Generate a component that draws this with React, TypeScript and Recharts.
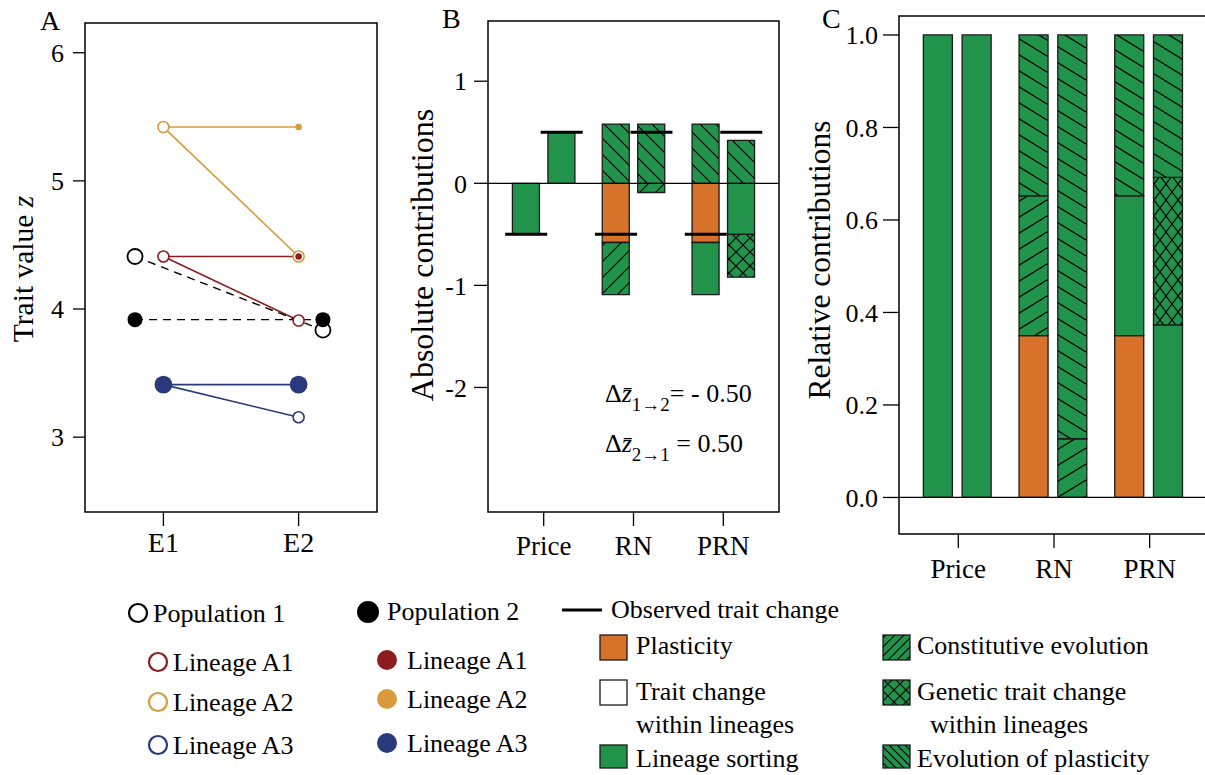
import React from 'react';
import {
  ComposedChart, Line, Scatter, Bar, XAxis, YAxis, ReferenceLine, ReferenceArea,
} from 'recharts';

const FONT = '"Liberation Serif", "Times New Roman", Times, serif';
const GREEN = '#21934a';
const ORANGE = '#d6722a';
const EDGE = '#1a1a1a';

// panel A: trait value of the lineages / populations in the two environments
const envTicks = [1, 2];
const envLabels = ['E1', 'E2'];
const lineageNames = ['A1', 'A2', 'A3'];
const lineageColors = ['#8c1c1f', '#d99a3e', '#283a7c'];
const lineageE1 = [4.41, 5.42, 3.41];
const lineageE2Pop2 = [4.41, 5.42, 3.41];
const lineageE2Pop1 = [3.91, 4.41, 3.155];
const pop2FreqE1 = [0, 0, 0.8];
const pop2FreqE2 = [0.1, 0.1, 0.8];
const popX = [0.79, 2.18];
const pop1Mean = [4.41, 3.835];
const pop2Mean = [3.917, 3.917];
const traitTicks = [3, 4, 5, 6];

// panels B and C: decompositions, two columns (1->2, 2->1) per method
const methods = ['Price', 'RN', 'PRN'];
const plasticityAbs = [0, 0, -0.58, 0, -0.58, 0];
const sortingAbs = [-0.5, 0.5, 0, 0, -0.51, -0.5];
const constitutiveAbs = [0, 0, -0.51, -0.09, 0, 0];
const geneticAbs = [0, 0, 0, 0, 0, -0.42];
const evoPlastAbs = [0, 0, 0.58, 0.58, 0.58, 0.42];
const observed = [-0.5, 0.5, -0.5, 0.5, -0.5, 0.5];
const absTicks = [-2, -1, 0, 1];

const plasticityRel = [0, 0, 0.35, 0, 0.35, 0];
const sortingRel = [1, 1, 0, 0, 0.302, 0.373];
const constitutiveRel = [0, 0, 0.302, 0.127, 0, 0];
const geneticRel = [0, 0, 0, 0, 0, 0.319];
const evoPlastRel = [0, 0, 0.348, 0.873, 0.348, 0.308];
const relTicks = [0, 0.2, 0.4, 0.6, 0.8, 1.0];

const tickFont = { fontFamily: FONT, fill: '#000' };
const tickLine = { stroke: '#000', strokeWidth: 1.3 };

function Hatch({ id, w, h, kind }: { id: string; w: number; h: number; kind: 'back' | 'fwd' | 'cross' }) {
  const lines: React.ReactNode[] = [];
  [-1, 0, 1].forEach((k) => {
    if (kind !== 'fwd') lines.push(<line key={'b' + k} x1={0} y1={k * h} x2={w} y2={(k + 1) * h} stroke="#000" strokeWidth={1.2} />);
    if (kind !== 'back') lines.push(<line key={'f' + k} x1={0} y1={(k + 1) * h} x2={w} y2={k * h} stroke="#000" strokeWidth={1.2} />);
  });
  return (
    <pattern id={id} patternUnits="userSpaceOnUse" width={w} height={h}>
      <rect width={w} height={h} fill={GREEN} />
      {lines}
    </pattern>
  );
}

function PanelA() {
  const openPts = [
    ...lineageNames.map((n, i) => ({ x: envTicks[0], y: lineageE1[i], c: lineageColors[i], r: 5.5 })),
    ...lineageNames.map((n, i) => ({ x: envTicks[1], y: lineageE2Pop1[i], c: lineageColors[i], r: 5.5 })),
  ];
  const filledPts = [
    ...lineageNames.map((n, i) => ({ x: envTicks[0], y: lineageE1[i], c: lineageColors[i], r: 2.5 + 8 * pop2FreqE1[i], f: pop2FreqE1[i] })),
    ...lineageNames.map((n, i) => ({ x: envTicks[1], y: lineageE2Pop2[i], c: lineageColors[i], r: 2.5 + 8 * pop2FreqE2[i], f: pop2FreqE2[i] })),
  ].filter((p) => p.f > 0);
  const pop1Pts = popX.map((x, i) => ({ x, y: pop1Mean[i] }));
  const pop2Pts = popX.map((x, i) => ({ x, y: pop2Mean[i] }));

  return (
    <ComposedChart width={400} height={580} margin={{ top: 23, right: 23, bottom: 0, left: 0 }}>
      <XAxis dataKey="x" type="number" domain={[0.42, 2.58]} ticks={envTicks} allowDataOverflow
        tickFormatter={(v) => envLabels[envTicks.indexOf(v)]} axisLine={false} tickLine={tickLine}
        tickSize={14} tickMargin={6} height={68} tick={{ ...tickFont, fontSize: 28 }} interval={0} />
      <YAxis type="number" domain={[2.416, 6.232]} ticks={traitTicks} allowDataOverflow width={85}
        axisLine={false} tickLine={tickLine} tickSize={12} tickMargin={9}
        tick={{ ...tickFont, fontSize: 26 }} interval={0} />
      <ReferenceArea x1={0.42} x2={2.58} y1={2.416} y2={6.232} fill="none" stroke="#000" strokeWidth={1.5} ifOverflow="visible" />
      {lineageNames.map((n, i) => (
        <Line key={n + '-same'} data={[{ x: envTicks[0], y: lineageE1[i] }, { x: envTicks[1], y: lineageE2Pop2[i] }]}
          dataKey="y" stroke={lineageColors[i]} strokeWidth={1.6} dot={false} isAnimationActive={false} />
      ))}
      {lineageNames.map((n, i) => (
        <Line key={n + '-shift'} data={[{ x: envTicks[0], y: lineageE1[i] }, { x: envTicks[1], y: lineageE2Pop1[i] }]}
          dataKey="y" stroke={lineageColors[i]} strokeWidth={1.6} dot={false} isAnimationActive={false} />
      ))}
      <Line data={pop1Pts} dataKey="y" stroke="#000" strokeWidth={1.4} strokeDasharray="8 6" dot={false} isAnimationActive={false} />
      <Line data={pop2Pts} dataKey="y" stroke="#000" strokeWidth={1.4} strokeDasharray="8 6" dot={false} isAnimationActive={false} />
      <Scatter data={openPts} dataKey="y" isAnimationActive={false}
        shape={(p: any) => <circle cx={p.cx} cy={p.cy} r={p.payload.r} fill="#fff" stroke={p.payload.c} strokeWidth={1.6} />} />
      <Scatter data={filledPts} dataKey="y" isAnimationActive={false}
        shape={(p: any) => <circle cx={p.cx} cy={p.cy} r={p.payload.r} fill={p.payload.c} />} />
      <Scatter data={pop1Pts} dataKey="y" isAnimationActive={false}
        shape={(p: any) => <circle cx={p.cx} cy={p.cy} r={7.5} fill="#fff" stroke="#000" strokeWidth={1.8} />} />
      <Scatter data={pop2Pts} dataKey="y" isAnimationActive={false}
        shape={(p: any) => <circle cx={p.cx} cy={p.cy} r={7.5} fill="#000" />} />
    </ComposedChart>
  );
}

type Parts = { plasticity: number[]; sorting: number[]; constitutive: number[]; genetic: number[]; evoPlast: number[] };

function buildRows(parts: Parts, offsets: number[], obs?: number[]) {
  return methods.flatMap((m, g) => offsets.map((off, c) => {
    const i = g * 2 + c;
    return {
      x: g + 1 + off,
      plasticity: parts.plasticity[i],
      sorting: parts.sorting[i],
      constitutive: parts.constitutive[i],
      genetic: parts.genetic[i],
      evoPlast: parts.evoPlast[i],
      obs: obs ? obs[i] : null,
    };
  }));
}

function DecompChart(props: {
  rows: any[]; width: number; height: number; top: number; right: number; yWidth: number; xHeight: number;
  yDomain: [number, number]; yTicks: number[]; yFmt: (v: number) => string; prefix: string; barSize: number;
  hw: number; hh: number; cw: number; ch: number; yTickSize: number; yTickMargin: number; xTickMargin: number;
  observedLines?: boolean;
}) {
  const p = props;
  const common = { stackId: 's', barSize: p.barSize, stroke: EDGE, strokeWidth: 1.3, isAnimationActive: false };
  return (
    <ComposedChart width={p.width} height={p.height} data={p.rows} stackOffset="sign"
      margin={{ top: p.top, right: p.right, bottom: 0, left: 0 }}>
      <defs>
        <Hatch id={p.prefix + '-back'} w={p.hw} h={p.hh} kind="back" />
        <Hatch id={p.prefix + '-fwd'} w={p.hw} h={p.hh} kind="fwd" />
        <Hatch id={p.prefix + '-cross'} w={p.cw} h={p.ch} kind="cross" />
      </defs>
      <XAxis dataKey="x" type="number" domain={[0.38, 3.62]} ticks={[1, 2, 3]} allowDataOverflow
        tickFormatter={(v) => methods[v - 1]} axisLine={false} tickLine={tickLine}
        tickSize={14} tickMargin={p.xTickMargin} height={p.xHeight} tick={{ ...tickFont, fontSize: 27 }} interval={0} />
      <YAxis type="number" domain={p.yDomain} ticks={p.yTicks} allowDataOverflow width={p.yWidth}
        tickFormatter={p.yFmt} axisLine={false} tickLine={tickLine} tickSize={p.yTickSize} tickMargin={p.yTickMargin}
        tick={{ ...tickFont, fontSize: 26 }} interval={0} />
      <ReferenceArea x1={0.38} x2={3.62} y1={p.yDomain[0]} y2={p.yDomain[1]} fill="none" stroke="#000" strokeWidth={1.5} ifOverflow="visible" />
      <Bar dataKey="plasticity" fill={ORANGE} {...common} />
      <Bar dataKey="sorting" fill={GREEN} {...common} />
      <Bar dataKey="constitutive" fill={`url(#${p.prefix}-fwd)`} {...common} />
      <Bar dataKey="genetic" fill={`url(#${p.prefix}-cross)`} {...common} />
      <Bar dataKey="evoPlast" fill={`url(#${p.prefix}-back)`} {...common} />
      <ReferenceLine y={0} stroke="#000" strokeWidth={1.2} />
      {p.observedLines && (
        <Scatter dataKey="obs" isAnimationActive={false}
          shape={(s: any) => <line x1={s.cx - 21} x2={s.cx + 21} y1={s.cy} y2={s.cy} stroke="#000" strokeWidth={3} />} />
      )}
    </ComposedChart>
  );
}

function Legend() {
  const t = { fontFamily: FONT, fontSize: 26, fill: '#000' };
  const openRows = [662, 702, 745];
  const filledRows = [660, 699, 743];
  return (
    <g>
      <defs>
        <Hatch id="lg-fwd" w={9} h={9} kind="fwd" />
        <Hatch id="lg-cross" w={12} h={12} kind="cross" />
        <Hatch id="lg-back" w={8} h={8} kind="back" />
      </defs>
      <circle cx={138} cy={613} r={9} fill="#fff" stroke="#000" strokeWidth={2.2} />
      <text x={153} y={622} {...t}>Population 1</text>
      <circle cx={368} cy={612} r={11} fill="#000" />
      <text x={387} y={620} {...t}>Population 2</text>
      {lineageNames.map((n, i) => (
        <g key={n}>
          <circle cx={158} cy={openRows[i]} r={9} fill="#fff" stroke={lineageColors[i]} strokeWidth={2.2} />
          <text x={173} y={openRows[i] + 9} {...t}>Lineage {n}</text>
          <circle cx={387} cy={filledRows[i]} r={10} fill={lineageColors[i]} />
          <text x={407} y={filledRows[i] + 9} {...t}>Lineage {n}</text>
        </g>
      ))}
      <line x1={562} x2={602} y1={610} y2={610} stroke="#000" strokeWidth={3} />
      <text x={611} y={618} {...t}>Observed trait change</text>

      <rect x={600} y={635} width={27} height={25} fill={ORANGE} stroke={EDGE} strokeWidth={1.3} />
      <text x={636} y={654} {...t}>Plasticity</text>
      <rect x={600} y={680} width={27} height={25} fill="#fff" stroke={EDGE} strokeWidth={1.3} />
      <text x={636} y={700} {...t}>Trait change</text>
      <text x={636} y={733} {...t}>within lineages</text>
      <rect x={600} y={745} width={27} height={23} fill={GREEN} stroke={EDGE} strokeWidth={1.3} />
      <text x={636} y={767} {...t}>Lineage sorting</text>

      <rect x={883} y={635} width={27} height={25} fill="url(#lg-fwd)" stroke={EDGE} strokeWidth={1.3} />
      <text x={917} y={654} {...t}>Constitutive evolution</text>
      <rect x={883} y={680} width={27} height={25} fill="url(#lg-cross)" stroke={EDGE} strokeWidth={1.3} />
      <text x={917} y={700} {...t}>Genetic trait change</text>
      <text x={930} y={733} {...t}>within lineages</text>
      <rect x={883} y={745} width={27} height={23} fill="url(#lg-back)" stroke={EDGE} strokeWidth={1.3} />
      <text x={917} y={767} {...t}>Evolution of plasticity</text>
    </g>
  );
}

export default function App() {
  const rowsB = buildRows({ plasticity: plasticityAbs, sorting: sortingAbs, constitutive: constitutiveAbs, genetic: geneticAbs, evoPlast: evoPlastAbs }, [-0.195, 0.2], observed);
  const rowsC = buildRows({ plasticity: plasticityRel, sorting: sortingRel, constitutive: constitutiveRel, genetic: geneticRel, evoPlast: evoPlastRel }, [-0.215, 0.19]);
  const title = { fontFamily: FONT, fill: '#000' };

  return (
    <div style={{ position: 'fixed', left: 0, top: 0, width: 1205, height: 775, overflow: 'hidden', background: '#fff' }}>
      <div style={{ position: 'absolute', left: 0, top: 0 }}>
        <PanelA />
      </div>
      <div style={{ position: 'absolute', left: 400, top: 0 }}>
        <DecompChart rows={rowsB} width={400} height={580} top={21} right={21} yWidth={88} xHeight={68}
          yDomain={[-3.22, 1.59]} yTicks={absTicks} yFmt={(v) => String(v)} prefix="hb" barSize={27}
          hw={16} hh={16} cw={14} ch={14} yTickSize={14} yTickMargin={7} xTickMargin={10} observedLines />
      </div>
      <div style={{ position: 'absolute', left: 800, top: 0 }}>
        <DecompChart rows={rowsC} width={430} height={600} top={16} right={21} yWidth={99} xHeight={66}
          yDomain={[-0.079, 1.041]} yTicks={relTicks} yFmt={(v) => v.toFixed(1)} prefix="hc" barSize={29}
          hw={26} hh={16} cw={12} ch={16} yTickSize={16} yTickMargin={5} xTickMargin={11} />
      </div>
      <svg width={1205} height={775} style={{ position: 'absolute', left: 0, top: 0, pointerEvents: 'none' }}>
        <text x={40} y={30} fontSize={28} {...title}>A</text>
        <text x={442} y={28} fontSize={28} {...title}>B</text>
        <text x={822} y={28} fontSize={28} {...title}>C</text>
        <text x={33} y={269} fontSize={29.5} textAnchor="middle" transform="rotate(-90 33 269)" {...title}>
          Trait value <tspan fontStyle="italic">z</tspan>
        </text>
        <text x={433} y={255} fontSize={32} textAnchor="middle" transform="rotate(-90 433 255)" {...title}>
          Absolute contributions
        </text>
        <text x={830} y={260} fontSize={31.5} textAnchor="middle" transform="rotate(-90 830 260)" {...title}>
          Relative contributions
        </text>
        <text x={605} y={402} fontSize={26} {...title}>
          Δ<tspan fontStyle="italic">z&#x304;</tspan><tspan fontSize={19} dy={9}>1→2</tspan><tspan dy={-9}>= - 0.50</tspan>
        </text>
        <text x={605} y={452} fontSize={26} {...title}>
          Δ<tspan fontStyle="italic">z&#x304;</tspan><tspan fontSize={19} dy={9}>2→1</tspan><tspan dy={-9}> = 0.50</tspan>
        </text>
        <Legend />
      </svg>
    </div>
  );
}
